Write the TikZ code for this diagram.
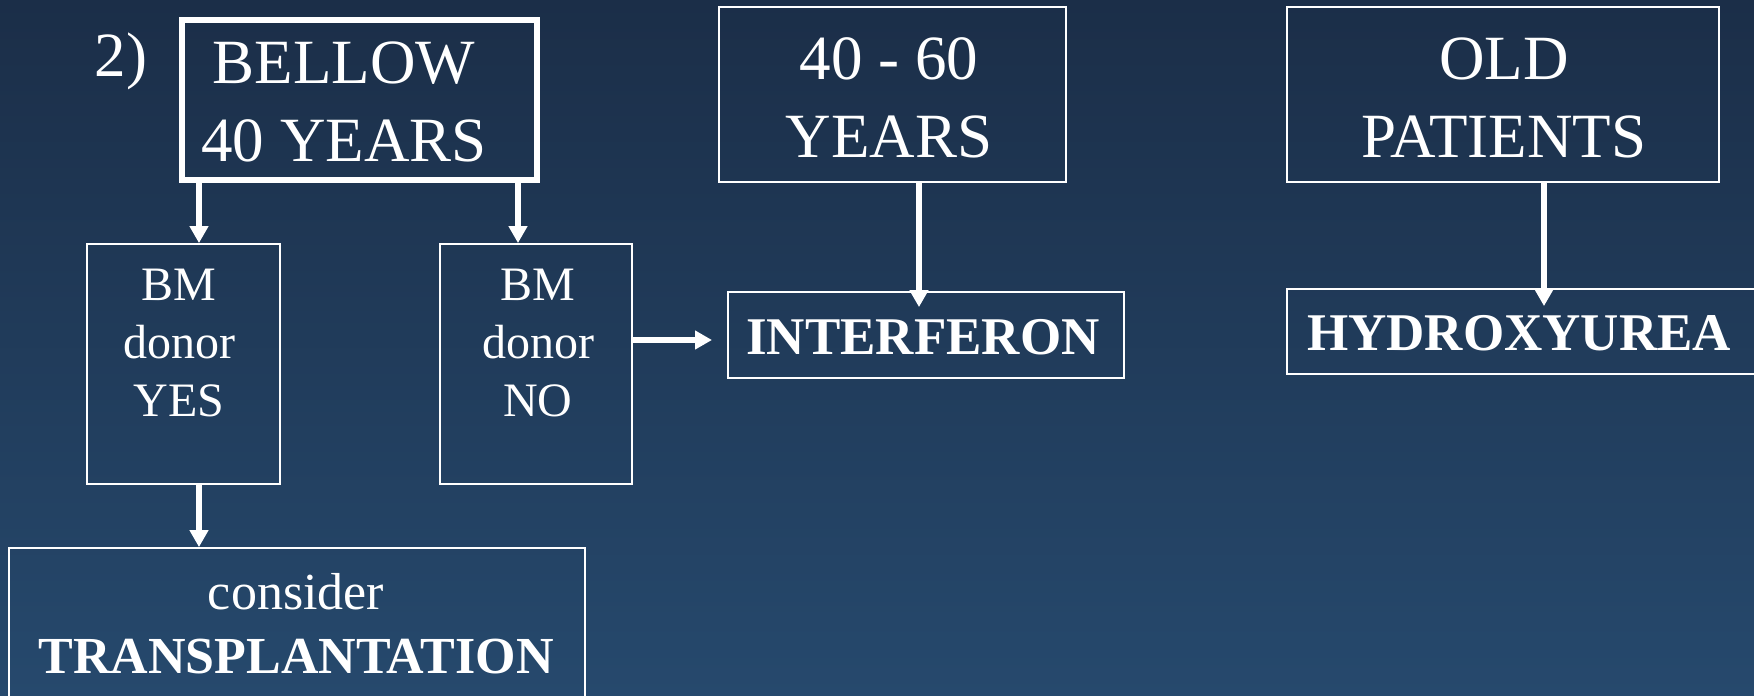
\documentclass[tikz,border=0pt]{standalone}
\usepackage{fontspec}
\setmainfont{Liberation Serif}
\usetikzlibrary{arrows.meta}
\definecolor{bgtop}{HTML}{1B2E48}
\definecolor{bgbottom}{HTML}{26496D}
\begin{document}
\begin{tikzpicture}[x=1pt,y=-1pt,
  box/.style={draw=white,line width=1.8pt,inner sep=0pt,minimum width=#1},
  thick box/.style={draw=white,line width=5.5pt,inner sep=0pt},
  label/.style={text=white,inner sep=0pt,anchor=base},
  big/.style={font=\fontsize{63}{78}\selectfont},
  mid/.style={font=\fontsize{48}{58}\selectfont},
  bold label/.style={font=\fontsize{53}{64}\selectfont\bfseries},
  arr/.style={draw=white,line width=6pt,-{Triangle[width=18pt,length=17pt]}}]
% background
\begin{scope}[y=1pt]
  \shade[top color=bgtop,bottom color=bgbottom] (0,-696) rectangle (1754,0);
\end{scope}
\useasboundingbox (0,0) rectangle (1754,696);

% boxes
\node[thick box,minimum width=355pt,minimum height=160pt] (bellow) at (359.5,100) {};
\node[box=347pt,minimum height=175pt] (middle) at (892.5,94.5) {};
\node[box=432pt,minimum height=175pt] (old) at (1503,94.5) {};
\node[box=193pt,minimum height=240pt] (yes) at (183.5,364) {};
\node[box=192pt,minimum height=240pt] (no) at (536,364) {};
\node[box=396pt,minimum height=86pt] (interf) at (926,335) {};
\node[box=470pt,minimum height=85pt] (hydroxy) at (1522,331.5) {};
\node[box=576pt,minimum height=170pt] (trans) at (297,633) {};

% texts
\node[label,big] (num) at (121,76) {2)};
\node[label,big] (bellowtext) at (344,83)
  {\begin{tabular}[t]{@{}c@{}}BELLOW\\40 YEARS\end{tabular}};
\node[label,big] (middletext) at (889,79)
  {\begin{tabular}[t]{@{}c@{}}40 - 60\\YEARS\end{tabular}};
\node[label,big] (oldtext) at (1504,79)
  {\begin{tabular}[t]{@{}c@{}}OLD\\PATIENTS\end{tabular}};
\node[label,mid] (yestext) at (179,300)
  {\begin{tabular}[t]{@{}c@{}}BM\\donor\\YES\end{tabular}};
\node[label,mid] (notext) at (538,300)
  {\begin{tabular}[t]{@{}c@{}}BM\\donor\\NO\end{tabular}};
\node[label,bold label] (interftext) at (923,354) {INTERFERON};
\node[label,bold label] (hydroxytext) at (1519,350) {HYDROXYUREA};
\node[label,font=\fontsize{52}{64}\selectfont] (transtext) at (296,609)
  {\begin{tabular}[t]{@{}c@{}}consider\\\bfseries TRANSPLANTATION\end{tabular}};

% connectors
\coordinate (notip) at (712,340);
\draw[arr] ([xshift=-160.5pt]bellow.south) -- ([xshift=15.5pt]yes.north);
\draw[arr] ([xshift=158.5pt]bellow.south) -- ([xshift=-18pt]no.north);
\draw[arr] ([xshift=15.5pt]yes.south) -- ([xshift=-98pt]trans.north);
\draw[arr] ([yshift=24pt]no.east) -- (notip);
\draw[arr] ([xshift=26.5pt]middle.south) -- ([xshift=-7pt,yshift=-16pt]interf.north);
\draw[arr] ([xshift=41pt]old.south) -- ([xshift=22pt,yshift=-18pt]hydroxy.north);
\end{tikzpicture}
\end{document}
